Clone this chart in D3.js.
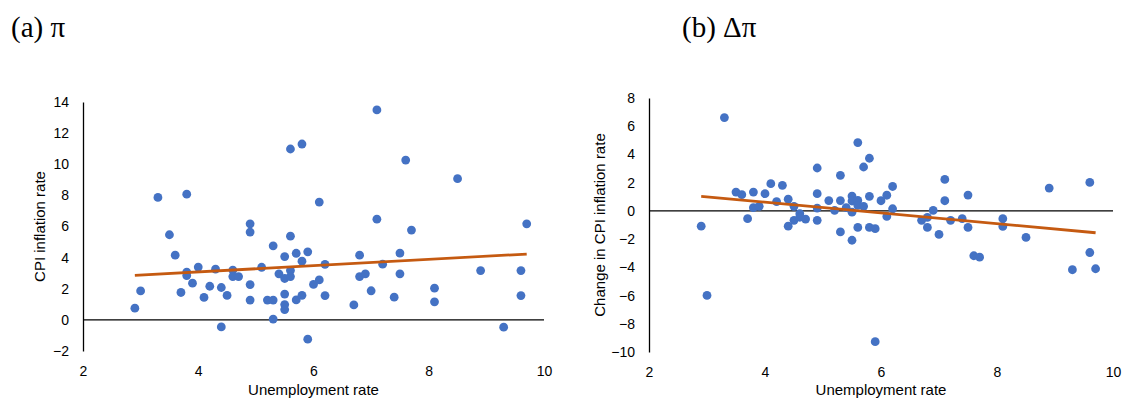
<!DOCTYPE html>
<html>
<head>
<meta charset="utf-8">
<script src="https://cdn.jsdelivr.net/npm/d3@7"></script>
<style>
  body { margin: 0; background: #fff; }
  svg { display: block; font-family: 'Liberation Sans', Arial, sans-serif; }
</style>
</head>
<body>
<svg id="chart"></svg>
<script>
// panel (a): inflation vs unemployment
const unempA = [2.9, 3.0, 3.3, 3.5, 3.6, 3.7, 3.8, 3.8, 3.8, 3.9, 4.0, 4.1, 4.2, 4.3, 4.4, 4.4, 4.5, 4.6, 4.6, 4.7,
  4.9, 4.9, 4.9, 4.9, 5.1, 5.2, 5.3, 5.3, 5.3, 5.4, 5.5, 5.5, 5.5, 5.5, 5.5, 5.6, 5.6, 5.6, 5.6, 5.7,
  5.7, 5.8, 5.8, 5.8, 5.9, 5.9, 6.0, 6.1, 6.1, 6.2, 6.2, 6.7, 6.8, 6.8, 6.9, 7.0, 7.1, 7.1, 7.2, 7.4,
  7.5, 7.5, 7.6, 7.7, 8.1, 8.1, 8.5, 8.9, 9.3, 9.6, 9.6, 9.7]
const inflA = [0.75, 1.86, 7.87, 5.47, 4.16, 1.76, 3.07, 2.85, 8.08, 2.36, 3.39, 1.44, 2.16, 3.26, 2.08, -0.45, 1.57, 3.2, 2.78, 2.78,
  6.17, 5.64, 2.27, 1.27, 3.38, 1.27, 1.27, 4.76, 0.05, 2.96, 4.07, 2.66, 1.66, 0.98, 0.66, 5.38, 3.18, 2.78, 10.98, 4.28,
  1.28, 11.3, 3.77, 1.58, 4.37, -1.24, 2.28, 7.57, 2.57, 3.57, 1.56, 0.96, 4.16, 2.78, 2.96, 1.87, 13.49, 6.47, 3.58, 1.46,
  4.29, 2.96, 10.27, 5.77, 2.04, 1.16, 9.07, 3.17, -0.47, 3.17, 1.56, 6.17]
const trendA = [[2.9, 2.86], [9.7, 4.23]]

// panel (b): change in inflation vs unemployment
const unempB = [2.9, 3.0, 3.3, 3.5, 3.6, 3.7, 3.8, 3.8, 3.9, 4.0, 4.1, 4.2, 4.3, 4.4, 4.4, 4.5, 4.5, 4.6, 4.6, 4.7,
  4.9, 4.9, 4.9, 4.9, 5.1, 5.2, 5.3, 5.3, 5.3, 5.4, 5.5, 5.5, 5.5, 5.5, 5.6, 5.6, 5.6, 5.6, 5.7, 5.7,
  5.8, 5.8, 5.8, 5.9, 5.9, 6.0, 6.1, 6.1, 6.2, 6.2, 6.7, 6.8, 6.8, 6.9, 7.0, 7.1, 7.1, 7.2, 7.4, 7.5,
  7.5, 7.6, 7.7, 8.1, 8.1, 8.5, 8.9, 9.3, 9.6, 9.6, 9.7]
const dInflB = [-1.08, -5.99, 6.61, 1.33, 1.15, -0.55, 1.33, 0.23, 0.32, 1.22, 1.93, 0.65, 1.81, 0.83, -1.08, 0.32, -0.67, -0.2, -0.45, -0.58,
  3.04, 1.22, 0.2, -0.67, 0.73, 0.04, 2.52, 0.73, -1.49, 0.23, 1.05, 0.7, -0.09, -2.08, 4.84, 0.74, 0.39, -1.17, 0.32, 3.11,
  3.73, 1.03, -1.17, -1.26, -9.27, 0.72, 1.11, -0.39, 1.73, 0.15, -0.67, -0.46, -1.17, 0.03, -1.67, 2.23, 0.72, -0.67, -0.55, 1.12,
  -1.17, -3.18, -3.28, -0.55, -1.1, -1.88, 1.62, -4.17, 2.02, -2.95, -4.1]
const trendB = [[2.9, 1.03], [9.7, -1.55]]

const xTicks = [2, 4, 6, 8, 10]
const yTicksA = [-2, 0, 2, 4, 6, 8, 10, 12, 14]
const yTicksB = [-10, -8, -6, -4, -2, 0, 2, 4, 6, 8]

const W = 1125
const H = 399
const dotColor = '#4472C4'
const trendColor = '#C55A11'

const svg = d3.select('#chart').attr('width', W).attr('height', H)

drawPanel({
  title: '(a) \u03c0', titleX: 11,
  xs: unempA, ys: inflA, trend: trendA,
  xRange: [83, 544], yDomain: [-2, 14], yRange: [351, 102],
  yTicks: yTicksA, yLabel: 'CPI inflation rate', yLabelX: 45,
})

drawPanel({
  title: '(b) \u0394\u03c0', titleX: 682,
  xs: unempB, ys: dInflB, trend: trendB,
  xRange: [649, 1113], yDomain: [-10, 8], yRange: [352, 98],
  yTicks: yTicksB, yLabel: 'Change in CPI inflation rate', yLabelX: 605,
})

function drawPanel(p) {
  const x = d3.scaleLinear().domain([2, 10]).range(p.xRange)
  const y = d3.scaleLinear().domain(p.yDomain).range(p.yRange)
  const g = svg.append('g')

  g.append('text')
    .attr('x', p.titleX)
    .attr('y', 37)
    .style('font-family', "'Liberation Serif', 'Times New Roman', serif")
    .style('font-size', '29px')
    .text(p.title)

  // y axis (vertical line + labels)
  const yAxis = d3.axisLeft(y).tickValues(p.yTicks).tickSize(0).tickPadding(14).tickFormat(d3.format('d'))
  const ga = g.append('g').attr('transform', `translate(${p.xRange[0]},0)`).call(yAxis)
  ga.select('.domain').attr('stroke', '#000').attr('stroke-width', 1.3)
  ga.selectAll('text').style('font-size', '14px').attr('fill', '#000')

  // x axis labels at the bottom
  const xAxis = d3.axisBottom(x).tickValues(xTicks).tickSize(0).tickPadding(15).tickFormat(d3.format('d'))
  const gx = g.append('g').attr('transform', `translate(0,${p.yRange[0]})`).call(xAxis)
  gx.select('.domain').remove()
  gx.selectAll('text').style('font-size', '14px').attr('fill', '#000')

  // zero line
  g.append('line')
    .attr('x1', p.xRange[0])
    .attr('x2', p.xRange[1])
    .attr('y1', y(0))
    .attr('y2', y(0))
    .attr('stroke', '#000')
    .attr('stroke-width', 1.3)

  g.append('text')
    .attr('x', (p.xRange[0] + p.xRange[1]) / 2)
    .attr('y', 395)
    .attr('text-anchor', 'middle')
    .style('font-size', '15px')
    .text('Unemployment rate')

  g.append('text')
    .attr('transform', `translate(${p.yLabelX},${(p.yRange[0] + p.yRange[1]) / 2}) rotate(-90)`)
    .attr('text-anchor', 'middle')
    .style('font-size', '15px')
    .text(p.yLabel)

  const pts = p.xs.map((d, i) => ({ u: d, v: p.ys[i] }))
  g.append('g')
    .selectAll('circle')
    .data(pts)
    .enter()
    .append('circle')
    .attr('cx', (d) => x(d.u))
    .attr('cy', (d) => y(d.v))
    .attr('r', 4.4)
    .attr('fill', dotColor)

  g.append('path')
    .datum(p.trend)
    .attr('d', d3.line().x((d) => x(d[0])).y((d) => y(d[1])))
    .attr('fill', 'none')
    .attr('stroke', trendColor)
    .attr('stroke-width', 2.8)
}
</script>
</body>
</html>
